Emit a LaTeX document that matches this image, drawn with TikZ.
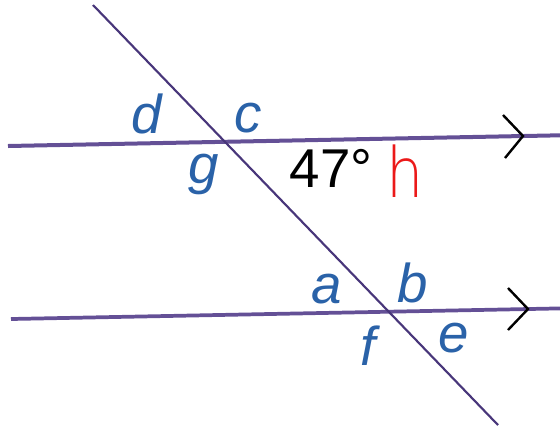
\documentclass[tikz,border=0pt]{standalone}
\usepackage{fontspec}
\setsansfont{Liberation Sans}
\newfontfamily\handfont{DejaVu Sans ExtraLight}
\usetikzlibrary{calc}
\usepackage{xcolor}
\definecolor{linepurple}{RGB}{100,80,150}
\definecolor{crosspurple}{RGB}{72,54,122}
\definecolor{labelblue}{RGB}{42,98,168}
\definecolor{markred}{RGB}{235,25,25}

\begin{document}
\begin{tikzpicture}[x=0.75pt, y=-0.75pt,
  anglab/.style={labelblue, anchor=base, inner sep=0pt, font=\sffamily\itshape\fontsize{41}{41}\selectfont},
  chevron/.style={black, line width=1.8pt}]
  \useasboundingbox (0,0) rectangle (560,430);
  % parallel lines
  \coordinate (topL) at (8,146);
  \coordinate (topR) at (560,135.3);
  \coordinate (botL) at (11,319);
  \coordinate (botR) at (560,308.4);
  \draw[linepurple, line width=3pt] (topL) -- (topR);
  \draw[linepurple, line width=2.8pt] (botL) -- (botR);
  % transversal
  \coordinate (crossT) at (93,5);
  \coordinate (crossB) at (498,425);
  \draw[crosspurple, line width=1.6pt] (crossT) -- (crossB);
  % parallel marks
  \coordinate (tipT) at (523,136);
  \coordinate (tipB) at (528,309);
  \draw[chevron] (503,115) -- (tipT) -- (505,158);
  \draw[chevron] (508,288) -- (tipB) -- (508,330);
  % angle names
  \node[anglab] (d) at (147,133) {d};
  \node[anglab] (c) at (248,132) {c};
  \node[anglab] (g) at (204,183) {g};
  \node[anglab] (a) at (327,303) {a};
  \node[anglab] (b) at (413,302) {b};
  \node[anglab] (f) at (368,365) {f};
  \node[anglab] (e) at (454,352) {e};
  % given angle
  \node[black, anchor=base, inner sep=0pt, font=\sffamily\fontsize{41}{41}\selectfont] (ang) at (331,187) {47°};
  \node[markred, anchor=base, inner sep=0pt, xscale=0.85, font=\handfont\fontsize{52}{52}\selectfont] (hmark) at (405,197) {h};
\end{tikzpicture}
\end{document}
